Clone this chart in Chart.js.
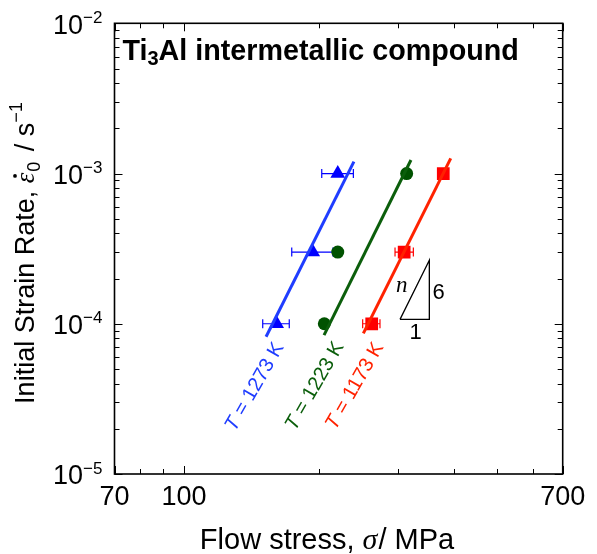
<!DOCTYPE html>
<html>
<head>
<meta charset="utf-8">
<script src="https://cdn.jsdelivr.net/npm/chart.js@4/dist/chart.umd.min.js"></script>
<style>
html,body{margin:0;padding:0;background:#fff;}
#wrap{width:597px;height:554px;}
</style>
</head>
<body>
<div id="wrap"><canvas id="c" width="597" height="554"></canvas></div>
<script>
// ---- data ----
const rates = [1e-4, 3e-4, 1e-3];
const stress1273 = [161, 193.8, 220.4];
const err1273Low = [149.9, 174, 203];
const err1273High = [171.8, 215, 238.8];
const stress1223 = [205.7, 220.4, 314];
const stress1173 = [262.4, 310, 379];
const err1173Low = [250.5, 295.8, null];
const err1173High = [273.8, 325, null];
const fit1273 = [[152.5, 8.19e-5], [239.5, 1.199e-3]];
const fit1223 = [[205.4, 8.41e-5], [321, 1.23e-3]];
const fit1173 = [[251.4, 8.63e-5], [393.8, 1.262e-3]];
const slopeTri = [[303.5, 1.07e-4], [352.8, 1.07e-4], [352.8, 2.65e-4], [303.5, 1.07e-4]];
const xMajorTicks = [70, 100, 700];
const xTickLabels = ['70', '100', '700'];
const xMinorTicks = [80, 90, 200, 300, 400, 500, 600];
const yExponents = [-5, -4, -3, -2];
const seriesLabels = ['1273', '1223', '1173'];
const labelAnchors = [[144, 3.8e-5], [196, 3.85e-5], [240.8, 3.85e-5]];

const BLUE_LINE = '#1f3dff', BLUE = '#0000ff';
const GREEN_LINE = '#0b5e0b', GREEN = '#005200';
const RED_LINE = '#ff2200', RED = '#ff0000';
const FONT = '"Liberation Sans", Arial, Helvetica, sans-serif';
const SERIF = '"Liberation Serif", "Times New Roman", serif';

const pts = (xs) => xs.map((x, i) => ({x: x, y: rates[i]}));
const pairs = (arr) => arr.map(p => ({x: p[0], y: p[1]}));

const errorBars = {
  id: 'errorBars',
  beforeDatasetsDraw(chart) {
    const {ctx} = chart;
    const xs = chart.scales.x, ys = chart.scales.y;
    const groups = [[err1273Low, err1273High, BLUE], [err1173Low, err1173High, RED]];
    ctx.save();
    ctx.lineWidth = 1.2;
    groups.forEach(([lo, hi, col]) => {
      ctx.strokeStyle = col;
      rates.forEach((r, i) => {
        if (lo[i] == null) return;
        const y = ys.getPixelForValue(r);
        const x1 = xs.getPixelForValue(lo[i]);
        const x2 = xs.getPixelForValue(hi[i]);
        ctx.beginPath();
        ctx.moveTo(x1, y); ctx.lineTo(x2, y);
        ctx.moveTo(x1, y - 4.5); ctx.lineTo(x1, y + 4.5);
        ctx.moveTo(x2, y - 4.5); ctx.lineTo(x2, y + 4.5);
        ctx.stroke();
      });
    });
    ctx.restore();
  }
};

function drawSup(ctx, base, sup, xRight, yMid, size, supSize) {
  ctx.font = size + 'px ' + FONT;
  const wb = ctx.measureText(base).width;
  ctx.font = supSize + 'px ' + FONT;
  const ws = ctx.measureText(sup).width;
  const x0 = xRight - wb - ws;
  ctx.textBaseline = 'middle';
  ctx.textAlign = 'left';
  ctx.font = size + 'px ' + FONT;
  ctx.fillText(base, x0, yMid);
  ctx.font = supSize + 'px ' + FONT;
  ctx.fillText(sup, x0 + wb, yMid - 8);
}

const decor = {
  id: 'decor',
  afterDatasetsDraw(chart) {
    const {ctx, chartArea: a} = chart;
    const xs = chart.scales.x, ys = chart.scales.y;
    ctx.save();
    ctx.fillStyle = '#000';
    ctx.strokeStyle = '#000';
    // frame
    ctx.lineWidth = 1.6;
    ctx.strokeRect(a.left, a.top, a.right - a.left, a.bottom - a.top);
    // x ticks (bottom + top, inward)
    ctx.lineWidth = 1;
    const xTick = (v, len) => {
      const x = Math.round(xs.getPixelForValue(v)) + 0.5;
      ctx.beginPath();
      ctx.moveTo(x, a.bottom); ctx.lineTo(x, a.bottom - len);
      ctx.moveTo(x, a.top); ctx.lineTo(x, a.top + len);
      ctx.stroke();
    };
    xMajorTicks.forEach(v => xTick(v, 8));
    xMinorTicks.forEach(v => xTick(v, 5));
    // y ticks (left + right, inward)
    const yTick = (v, len) => {
      const y = Math.round(ys.getPixelForValue(v)) + 0.5;
      ctx.beginPath();
      ctx.moveTo(a.left, y); ctx.lineTo(a.left + len, y);
      ctx.moveTo(a.right, y); ctx.lineTo(a.right - len, y);
      ctx.stroke();
    };
    yExponents.forEach((e, k) => {
      yTick(Math.pow(10, e), 8);
      if (k < yExponents.length - 1) {
        for (let m = 2; m <= 9; m++) yTick(m * Math.pow(10, e), 5);
      }
    });
    // x tick labels
    ctx.font = '27px ' + FONT;
    ctx.textAlign = 'center';
    ctx.textBaseline = 'middle';
    xMajorTicks.forEach((v, i) => {
      ctx.fillText(xTickLabels[i], xs.getPixelForValue(v), a.bottom + 24);
    });
    // y tick labels
    yExponents.forEach(e => {
      drawSup(ctx, '10', '\u2212' + Math.abs(e), a.left - 12, ys.getPixelForValue(Math.pow(10, e)) + 3, 27, 17);
    });
    // x title
    ctx.textBaseline = 'alphabetic';
    ctx.textAlign = 'left';
    const xt1 = 'Flow stress, ', xt2 = '\u03c3', xt3 = '/ MPa';
    const XF = '29px ' + FONT, XS = 'italic 30px ' + SERIF;
    ctx.font = XF; const w1 = ctx.measureText(xt1).width;
    ctx.font = XS; const w2 = ctx.measureText(xt2).width;
    ctx.font = XF; const w3 = ctx.measureText(xt3).width;
    let xx = 327 - (w1 + w2 + w3 + 1) / 2;
    const by = 549;
    ctx.font = XF; ctx.fillText(xt1, xx, by); xx += w1;
    ctx.font = XS; ctx.fillText(xt2, xx, by); xx += w2 + 1;
    ctx.font = XF; ctx.fillText(xt3, xx, by);
    // y title (rotated)
    ctx.save();
    ctx.translate(34, 253);
    ctx.rotate(-Math.PI / 2);
    const s1 = 'Initial Strain Rate, ', s2 = '\u03b5', s3 = '0', s4 = ' / s', s5 = '\u22121';
    const YF = '27px ' + FONT, YE = 'italic 27px ' + SERIF, YS = '18px ' + FONT;
    ctx.font = YF; const m1 = ctx.measureText(s1).width;
    ctx.font = YE; const m2 = ctx.measureText(s2).width;
    ctx.font = YS; const m3 = ctx.measureText(s3).width;
    ctx.font = YF; const m4 = ctx.measureText(s4).width;
    ctx.font = YS; const m5 = ctx.measureText(s5).width;
    let t = -(m1 + m2 + m3 + m4 + m5 + 4) / 2;
    ctx.font = YF; ctx.fillText(s1, t, 0); t += m1;
    ctx.font = YE; ctx.fillText(s2, t, 0);
    ctx.beginPath(); ctx.arc(t + m2 / 2 + 2, -19, 1.9, 0, Math.PI * 2); ctx.fill();
    t += m2 + 1;
    ctx.font = YS; ctx.fillText(s3, t, 6); t += m3 + 3;
    ctx.font = YF; ctx.fillText(s4, t, 0); t += m4;
    ctx.font = YS; ctx.fillText(s5, t, -12);
    ctx.restore();
    // title
    ctx.font = 'bold 28.7px ' + FONT;
    let tx = a.left + 8; const ty = 60;
    ctx.fillText('Ti', tx, ty); tx += ctx.measureText('Ti').width;
    ctx.font = 'bold 20px ' + FONT;
    ctx.fillText('3', tx, ty + 5); tx += ctx.measureText('3').width;
    ctx.font = 'bold 28.7px ' + FONT;
    ctx.fillText('Al intermetallic compound', tx, ty);
    // slope triangle labels
    ctx.font = 'italic 23px ' + SERIF;
    ctx.textAlign = 'center'; ctx.textBaseline = 'middle';
    ctx.fillText('n', xs.getPixelForValue(306), ys.getPixelForValue(1.78e-4));
    ctx.font = '22px ' + FONT;
    ctx.fillText('6', xs.getPixelForValue(370), ys.getPixelForValue(1.6e-4));
    ctx.fillText('1', xs.getPixelForValue(329), ys.getPixelForValue(0.875e-4));
    // rotated temperature labels
    const cols = [BLUE_LINE, GREEN_LINE, RED_LINE];
    labelAnchors.forEach((p, i) => {
      const px = xs.getPixelForValue(p[0]), py = ys.getPixelForValue(p[1]);
      ctx.save();
      ctx.translate(px, py);
      ctx.rotate(-60 * Math.PI / 180);
      ctx.fillStyle = cols[i];
      const a1 = 'T', a2 = ' = ' + seriesLabels[i] + ' K';
      ctx.font = 'italic 20px ' + FONT; const q1 = ctx.measureText(a1).width;
      ctx.font = '20px ' + FONT; const q2 = ctx.measureText(a2).width;
      ctx.textAlign = 'left'; ctx.textBaseline = 'middle';
      let u = -(q1 + q2) / 2;
      ctx.font = 'italic 20px ' + FONT; ctx.fillText(a1, u, 0); u += q1;
      ctx.font = '20px ' + FONT; ctx.fillText(a2, u, 0);
      ctx.restore();
    });
    ctx.restore();
  }
};

new Chart(document.getElementById('c'), {
  type: 'scatter',
  data: {
    datasets: [
      {data: pairs(fit1273), showLine: true, borderColor: BLUE_LINE, borderWidth: 3, pointRadius: 0},
      {data: pairs(fit1223), showLine: true, borderColor: GREEN_LINE, borderWidth: 3, pointRadius: 0},
      {data: pairs(fit1173), showLine: true, borderColor: RED_LINE, borderWidth: 3, pointRadius: 0},
      {data: pairs(slopeTri), showLine: true, borderColor: '#000', borderWidth: 1.3, pointRadius: 0},
      {data: pts(stress1273), pointStyle: 'triangle', pointRadius: 8.5, backgroundColor: BLUE, borderColor: BLUE, borderWidth: 0},
      {data: pts(stress1223), pointStyle: 'circle', pointRadius: 6.5, backgroundColor: GREEN, borderColor: GREEN, borderWidth: 0},
      {data: pts(stress1173), pointStyle: 'rect', pointRadius: 9, backgroundColor: RED, borderColor: RED, borderWidth: 0}
    ]
  },
  options: {
    responsive: false,
    animation: false,
    devicePixelRatio: 1,
    layout: {padding: {left: 114.5, right: 34.3, top: 23.3, bottom: 80}},
    plugins: {legend: {display: false}, tooltip: {enabled: false}},
    scales: {
      x: {type: 'logarithmic', min: 70, max: 700, display: false},
      y: {type: 'logarithmic', min: 1e-5, max: 1e-2, display: false}
    }
  },
  plugins: [errorBars, decor]
});
</script>
</body>
</html>
